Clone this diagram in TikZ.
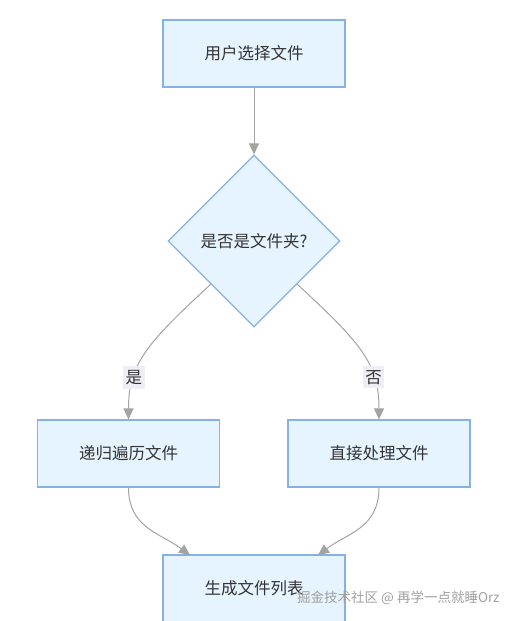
\documentclass[tikz,border=0pt]{standalone}
\usepackage{fontspec}
\newfontfamily\cjk{Noto Sans CJK SC}
\usetikzlibrary{shapes.geometric,arrows.meta}

\definecolor{boxfill}{HTML}{E6F4FF}
\definecolor{boxline}{HTML}{86B1E6}
\definecolor{edgegray}{HTML}{A3A3A3}
\definecolor{txtgray}{HTML}{333333}
\definecolor{lblbg}{HTML}{EFEDF6}

\tikzstyle{block} = [draw=boxline, fill=boxfill, rectangle, line width=1.2pt,
    minimum width=182pt, minimum height=67pt, text=txtgray,
    font=\cjk\fontsize{16.5}{20}\selectfont]
\tikzstyle{decision} = [draw=boxline, fill=boxfill, diamond, aspect=1,
    line width=1.2pt, inner sep=0pt, minimum size=172pt, text=txtgray,
    font=\cjk\fontsize{16.5}{20}\selectfont]
\tikzstyle{line} = [draw=edgegray, line width=1pt,
    -{Triangle[width=10pt,length=11pt]}]
\tikzstyle{edgelabel} = [fill=lblbg, text=txtgray, inner xsep=2.5pt,
    inner ysep=4pt, font=\cjk\fontsize{16.5}{20}\selectfont]

\begin{document}
\begin{tikzpicture}[x=1pt,y=-1pt]
    \useasboundingbox (0,0) rectangle (511,621);

    \node[block] (choose) at (254,53.5) {用户选择文件};
    \node[decision] (isdir) at (254,241) {是否是文件夹?};
    \node[block] (walk) at (128.5,453.5) {递归遍历文件};
    \node[block] (direct) at (379,453.5) {直接处理文件};
    \node[block] (list) at (254,588.5) {生成文件列表};

    \coordinate (listl) at (190,555);
    \coordinate (listr) at (318,555);

    \draw[line] (choose) -- (isdir);
    \draw[line] (isdir.south west) .. controls +(-65,60) and +(0,-55) ..
        node[edgelabel, pos=0.7] {是} (walk.north);
    \draw[line] (isdir.south east) .. controls +(65,60) and +(0,-55) ..
        node[edgelabel, pos=0.7] {否} (direct.north);
    \draw[line] (walk.south) .. controls +(0,40) and +(-30,-22) .. (listl);
    \draw[line] (direct.south) .. controls +(0,40) and +(30,-22) .. (listr);

    % watermark
    \node[anchor=west, text=gray!75, inner sep=0pt,
        font=\cjk\fontsize{13.5}{16}\selectfont] (mark) at (297,598)
        {掘金技术社区 @ 再学一点就睡Orz};
\end{tikzpicture}
\end{document}
